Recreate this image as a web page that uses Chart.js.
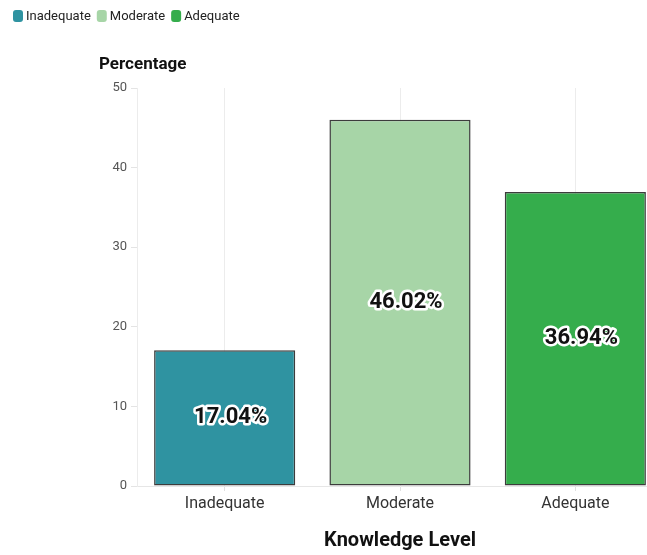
<!DOCTYPE html>
<html>
<head>
<meta charset="utf-8">
<script src="https://cdn.jsdelivr.net/npm/chart.js@4"></script>
<style>
  html, body { margin: 0; padding: 0; background: #fff; overflow: hidden; }
  #wrap { width: 647px; height: 555px; overflow: hidden; position: relative; }
  #box { width: 670px; height: 556px; position: absolute; left: 0; top: 0; }
</style>
</head>
<body>
<div id="wrap"><div id="box"><canvas id="chart"></canvas></div></div>
<script>
// ── Data ──
const CATEGORIES = ['Inadequate', 'Moderate', 'Adequate'];
const PERCENTAGES = [17.04, 46.02, 36.94];
const BAR_COLORS = ['#2f93a1', '#a7d5a7', '#35ad4c'];
const Y_TICKS = [0, 10, 20, 30, 40, 50];

const FONT = 'Roboto, "Noto Sans", sans-serif';

// ── Legend + "Percentage" heading drawn on canvas ──
const headerPlugin = {
  id: 'header',
  afterDraw(chart) {
    const ctx = chart.ctx;
    ctx.save();
    ctx.font = '13px ' + FONT;
    ctx.textBaseline = 'middle';
    let x = 13;
    CATEGORIES.forEach((c, i) => {
      ctx.fillStyle = BAR_COLORS[i];
      ctx.beginPath();
      ctx.roundRect(x, 10, 10, 12, 3);
      ctx.fill();
      ctx.fillStyle = '#222';
      ctx.textAlign = 'left';
      ctx.fillText(c, x + 13, 16.5);
      x += 13 + ctx.measureText(c).width + 6;
    });
    ctx.font = 'bold 17px ' + FONT;
    ctx.fillStyle = '#111';
    ctx.fillText('Percentage', 99, 65);
    ctx.restore();
  }
};

// ── Value labels inside bars ──
const valueLabels = {
  id: 'valueLabels',
  afterDatasetsDraw(chart) {
    const ctx = chart.ctx;
    const meta = chart.getDatasetMeta(0);
    ctx.save();
    ctx.font = 'bold 22px ' + FONT;
    ctx.textAlign = 'center';
    ctx.textBaseline = 'middle';
    ctx.lineJoin = 'round';
    meta.data.forEach((bar, i) => {
      const txt = PERCENTAGES[i].toFixed(2) + '%';
      const y = (bar.y + bar.base) / 2;
      ctx.strokeStyle = '#fff';
      ctx.lineWidth = 5;
      ctx.strokeText(txt, bar.x + 6, y);
      ctx.fillStyle = '#111';
      ctx.fillText(txt, bar.x + 6, y);
    });
    ctx.restore();
  }
};

new Chart(document.getElementById('chart'), {
  type: 'bar',
  data: {
    labels: CATEGORIES,
    datasets: [{
      data: PERCENTAGES,
      backgroundColor: BAR_COLORS,
      borderColor: '#3c3c3c',
      borderWidth: 1.5,
      borderSkipped: false,
      barPercentage: 0.805,
      categoryPercentage: 1
    }]
  },
  options: {
    responsive: true,
    maintainAspectRatio: false,
    animation: false,
    layout: { padding: { top: 88, left: 0, right: 7, bottom: 0 } },
    plugins: {
      legend: { display: false },
      tooltip: { enabled: false }
    },
    scales: {
      x: {
        afterFit: s => { s.height = 70; },
        grid: { offset: false, color: '#ececec', tickLength: 5, tickColor: '#e0e0e0' },
        border: { display: true, color: '#e6e6e6' },
        ticks: { font: { family: FONT, size: 16 }, color: '#333', padding: 3 },
        title: {
          display: true,
          text: 'Knowledge Level',
          font: { family: FONT, size: 20, weight: 'bold' },
          color: '#111',
          padding: { top: 0, bottom: 3 }
        }
      },
      y: {
        min: 0,
        max: 50,
        afterFit: s => { s.width = 137; },
        afterBuildTicks: s => { s.ticks = Y_TICKS.map(v => ({ value: v })); },
        grid: { drawOnChartArea: false, color: '#e4e4e4', tickLength: 6 },
        border: { display: true, color: '#ececec' },
        ticks: { font: { family: FONT, size: 13 }, color: '#555', padding: 4 }
      }
    }
  },
  plugins: [headerPlugin, valueLabels]
});
</script>
</body>
</html>
